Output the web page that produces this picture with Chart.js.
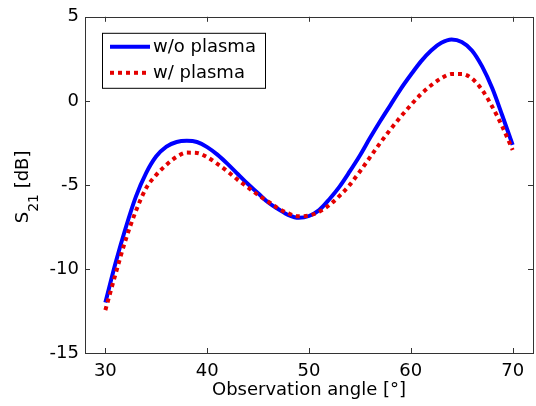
<!DOCTYPE html>
<html>
<head>
<meta charset="utf-8">
<script src="https://cdn.jsdelivr.net/npm/chart.js@4/dist/chart.umd.min.js"></script>
<style>
    html, body { margin: 0; padding: 0; background: #fff; }
</style>
</head>
<body>
<canvas id="s21Chart" width="536" height="406"></canvas>
<script>
// Observation angle [deg] and S21 [dB]
const angles = [30, 31, 32, 33, 34, 35, 36, 37, 38, 39, 40, 41, 42, 43, 44, 45, 46, 47, 48, 49,
    50, 51, 52, 53, 54, 55, 56, 57, 58, 59, 60, 61, 62, 63, 64, 65, 66, 67, 68, 69, 70];
const woPlasma = [-12.0, -9.65, -7.55, -5.7, -4.3, -3.3, -2.72, -2.45, -2.38, -2.45, -2.75, -3.2, -3.75, -4.35, -4.95, -5.5, -6.05, -6.45, -6.8, -6.96,
    -6.85, -6.5, -5.85, -5.1, -4.2, -3.25, -2.2, -1.2, -0.25, 0.7, 1.55, 2.35, 3.0, 3.45, 3.65, 3.5, 3.0, 2.05, 0.75, -0.9, -2.62];
const wPlasma = [-12.45, -10.3, -8.25, -6.55, -5.2, -4.4, -3.8, -3.33, -3.08, -3.1, -3.35, -3.75, -4.2, -4.7, -5.15, -5.6, -6.0, -6.4, -6.7, -6.87,
    -6.82, -6.6, -6.2, -5.65, -5.0, -4.2, -3.35, -2.5, -1.7, -0.95, -0.25, 0.4, 0.93, 1.35, 1.6, 1.6, 1.33, 0.65, -0.35, -1.55, -2.92];

const seriesLabels = ['w/o plasma', 'w/ plasma'];
const xTicks = [30, 40, 50, 60, 70];
const yTicks = [-15, -10, -5, 0, 5];

const FONT = "'DejaVu Sans', sans-serif";
const BLUE = '#0000ff';
const RED = 'rgb(228, 0, 0)';

function toPoints(ys) {
    return angles.map((a, i) => ({ x: a, y: ys[i] }));
}

// box around the plot + inward ticks on all four sides (matlab style)
const frameAndTicks = {
    id: 'frameAndTicks',
    afterDatasetsDraw(chart) {
        const { ctx, chartArea: a, scales } = chart;
        const len = 5;
        ctx.save();
        ctx.strokeStyle = '#333';
        ctx.lineWidth = 1;
        ctx.beginPath();
        scales.x.ticks.forEach(t => {
            const px = Math.round(scales.x.getPixelForValue(t.value)) + 0.5;
            ctx.moveTo(px, a.bottom); ctx.lineTo(px, a.bottom - len);
            ctx.moveTo(px, a.top); ctx.lineTo(px, a.top + len);
        });
        scales.y.ticks.forEach(t => {
            const py = Math.round(scales.y.getPixelForValue(t.value)) + 0.5;
            ctx.moveTo(a.left, py); ctx.lineTo(a.left + len, py);
            ctx.moveTo(a.right, py); ctx.lineTo(a.right - len, py);
        });
        ctx.stroke();
        ctx.strokeRect(Math.round(a.left) + 0.5, Math.round(a.top) + 0.5,
            Math.round(a.right - a.left), Math.round(a.bottom - a.top));
        ctx.restore();
    }
};

// legend box in the upper left of the plot
const boxLegend = {
    id: 'boxLegend',
    afterDraw(chart) {
        const { ctx, chartArea: a } = chart;
        const x0 = a.left + 17, y0 = a.top + 16;
        const w = 163, h = 55;
        ctx.save();
        ctx.fillStyle = '#fff';
        ctx.fillRect(x0, y0, w, h);
        ctx.strokeStyle = '#000';
        ctx.lineWidth = 1;
        ctx.strokeRect(x0 + 0.5, y0 + 0.5, w, h);
        ctx.font = '18px ' + FONT;
        ctx.textBaseline = 'middle';
        chart.data.datasets.forEach((ds, i) => {
            const ly = y0 + 14 + i * 26;
            ctx.beginPath();
            ctx.strokeStyle = ds.borderColor;
            ctx.lineWidth = ds.borderWidth;
            ctx.setLineDash(ds.borderDash || []);
            ctx.moveTo(x0 + 8, ly);
            ctx.lineTo(x0 + 48, ly);
            ctx.stroke();
            ctx.setLineDash([]);
            ctx.fillStyle = '#000';
            ctx.fillText(ds.label, x0 + 51, ly + 1);
        });
        ctx.restore();
    }
};

// y title "S21 [dB]" with subscript
const yTitle = {
    id: 'yTitle',
    afterDraw(chart) {
        const { ctx, chartArea: a } = chart;
        const big = '18px ' + FONT, small = '14px ' + FONT;
        ctx.save();
        ctx.font = big;
        const wS = ctx.measureText('S').width;
        const wRest = ctx.measureText(' [dB]').width;
        ctx.font = small;
        const wSub = ctx.measureText('21').width;
        const total = wS + wSub + wRest;
        ctx.translate(28, (a.top + a.bottom) / 2 + 2);
        ctx.rotate(-Math.PI / 2);
        ctx.fillStyle = '#000';
        ctx.textBaseline = 'alphabetic';
        let x = -total / 2;
        ctx.font = big;
        ctx.fillText('S', x, 0);
        x += wS;
        ctx.font = small;
        ctx.fillText('21', x, 10);
        x += wSub;
        ctx.font = big;
        ctx.fillText(' [dB]', x, 0);
        ctx.restore();
    }
};

new Chart(document.getElementById('s21Chart'), {
    type: 'line',
    data: {
        datasets: [{
            label: seriesLabels[0],
            data: toPoints(woPlasma),
            borderColor: BLUE,
            borderWidth: 4,
            pointRadius: 0,
            cubicInterpolationMode: 'monotone',
            order: 2,
        }, {
            label: seriesLabels[1],
            data: toPoints(wPlasma),
            borderColor: RED,
            borderWidth: 4,
            borderDash: [4, 4],
            pointRadius: 0,
            cubicInterpolationMode: 'monotone',
            order: 1,
        }],
    },
    options: {
        responsive: false,
        animation: false,
        layout: {
            padding: { top: 14, right: 3, left: 0, bottom: 0 }
        },
        plugins: {
            legend: { display: false },
            tooltip: { enabled: false },
        },
        scales: {
            x: {
                type: 'linear',
                min: 28,
                max: 72,
                afterBuildTicks: s => { s.ticks = xTicks.map(v => ({ value: v })); },
                afterFit: s => { s.height = 53; },
                grid: { display: false, drawTicks: false },
                border: { display: false },
                ticks: { color: '#000', padding: 8, font: { family: FONT, size: 18 } },
                title: {
                    display: true,
                    text: 'Observation angle [°]',
                    color: '#000',
                    font: { family: FONT, size: 18 },
                    padding: { top: 0, bottom: 5 },
                },
            },
            y: {
                min: -15,
                max: 5,
                afterBuildTicks: s => { s.ticks = yTicks.map(v => ({ value: v })); },
                afterFit: s => { s.width = 85; },
                grid: { display: false, drawTicks: false },
                border: { display: false },
                ticks: { color: '#000', padding: 6, font: { family: FONT, size: 18 } },
            },
        },
    },
    plugins: [frameAndTicks, boxLegend, yTitle],
});
</script>
</body>
</html>
